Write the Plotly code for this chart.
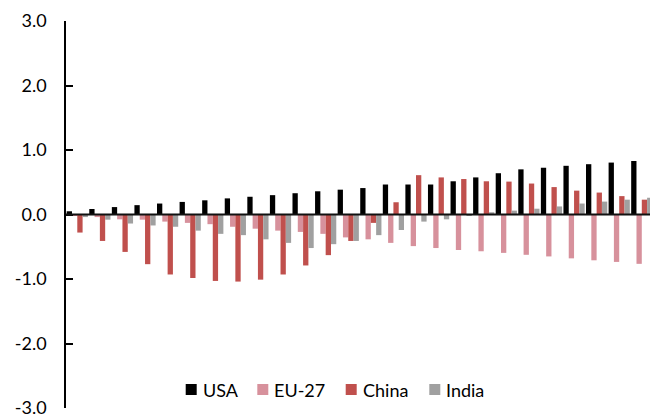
import plotly.graph_objects as go

# Contribution by region, one group of bars per period
periods = list(range(26))

series_names = ["USA", "EU-27", "China", "India"]

usa = [0.05, 0.085, 0.115, 0.145, 0.17, 0.195, 0.22, 0.25, 0.275, 0.30, 0.33, 0.36, 0.385,
       0.41, 0.465, 0.465, 0.465, 0.515, 0.575, 0.64, 0.70, 0.725, 0.755, 0.78, 0.805, 0.83]
eu27 = [-0.01, -0.04, -0.075, -0.08, -0.11, -0.13, -0.15, -0.19, -0.22, -0.25, -0.27, -0.30, -0.355,
        -0.385, -0.44, -0.49, -0.52, -0.55, -0.57, -0.595, -0.625, -0.65, -0.68, -0.71, -0.735, -0.765]
china = [-0.28, -0.41, -0.58, -0.77, -0.93, -0.985, -1.03, -1.04, -1.01, -0.93, -0.79, -0.63, -0.41,
         -0.13, 0.19, 0.61, 0.575, 0.55, 0.515, 0.51, 0.48, 0.425, 0.37, 0.34, 0.285, 0.23]
india = [-0.04, -0.08, -0.14, -0.17, -0.19, -0.25, -0.30, -0.32, -0.385, -0.44, -0.52, -0.46, -0.41,
         -0.32, -0.24, -0.11, -0.075, -0.01, 0.035, 0.06, 0.09, 0.125, 0.17, 0.20, 0.23, 0.26]

y_tickvals = [-3, -2, -1, 0, 1, 2, 3]
y_ticktext = ["-3.0", "-2.0", "-1.0", "0.0", "1.0", "2.0", "3.0"]

colors = ["#000000", "#D7919C", "#C0504D", "#A0A0A0"]
values = [usa, eu27, china, india]

FONT = "Lato, 'Open Sans', sans-serif"
W, H = 650, 417
L, R, T, B = 66, 0, 21, 9
plot_w = W - L - R
plot_h = H - T - B
cat_px = 22.58  # width of one period on the category axis

fig = go.Figure()
for name, col, vals in zip(series_names, colors, values):
    fig.add_trace(go.Bar(x=periods, y=vals, name=name, marker=dict(color=col, line=dict(width=0)),
                         showlegend=False))

# zero line drawn over the bars
fig.add_shape(type="line", xref="paper", yref="y", x0=0, x1=1, y0=0, y1=0,
              line=dict(color="#111111", width=1.8), layer="above")

# legend row beneath the bars
def px_x(px):
    return (px - L) / plot_w

def px_y(py):
    return (H - B - py) / plot_h

legend_left = [185.7, 257.3, 345.7, 429.3]
sq = 11
cy = 389.5
for name, col, x0 in zip(series_names, colors, legend_left):
    fig.add_shape(type="rect", xref="paper", yref="paper",
                  x0=px_x(x0), x1=px_x(x0 + sq), y0=px_y(cy + sq / 2), y1=px_y(cy - sq / 2),
                  fillcolor=col, line=dict(width=0), layer="above")
    fig.add_annotation(xref="paper", yref="paper", x=px_x(x0 + 15), y=px_y(cy),
                       xanchor="left", yanchor="middle", text=name, showarrow=False,
                       font=dict(family=FONT, size=18, color="#000000"))

fig.update_layout(
    width=W, height=H,
    margin=dict(l=L, r=R, t=T, b=B, pad=0),
    paper_bgcolor="white", plot_bgcolor="white",
    barmode="group", bargap=0.06, bargroupgap=0,
    font=dict(family=FONT, size=18, color="#000000"),
    xaxis=dict(range=[-0.5, -0.5 + plot_w / cat_px], showticklabels=False, ticks="",
               showgrid=False, zeroline=False, showline=False),
    yaxis=dict(range=[-3, 3], tickvals=y_tickvals, ticktext=y_ticktext,
               showgrid=False, zeroline=False, showline=True, linecolor="#000000", linewidth=1.5,
               ticks="inside", ticklen=7, tickwidth=1.5, tickcolor="#000000",
               ticklabelstandoff=14, ticklabeloverflow="allow",
               tickfont=dict(family=FONT, size=18, color="#000000")),
)

fig.write_html("out.html")
